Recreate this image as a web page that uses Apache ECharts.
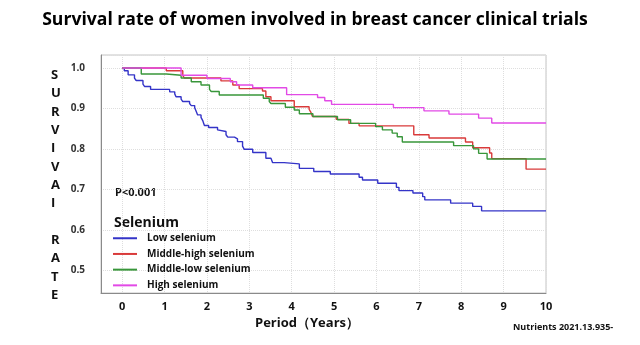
<!DOCTYPE html>
<html><head><meta charset="utf-8">
<script src="https://cdn.jsdelivr.net/npm/echarts@6/dist/echarts.min.js"></script>
<style>html,body{margin:0;padding:0;background:#fff}#c{width:640px;height:345px}</style>
</head><body><div id="c"></div>
<script>
const titleText = 'Survival rate of women involved in breast cancer clinical trials';
const seriesNames = ['Low selenium', 'Middle-high selenium', 'Middle-low selenium', 'High selenium'];
const seriesColors = ['#3434c8', '#d93a3a', '#38963a', '#e24ae6'];
const yTicks = [0.5, 0.6, 0.7, 0.8, 0.9, 1.0];
const xTicks = [0, 1, 2, 3, 4, 5, 6, 7, 8, 9, 10];

const lowSelenium = [[0,1.0],[0.05,0.993],[0.14,0.983],[0.29,0.975],[0.33,0.969],[0.49,0.96],[0.53,0.954],[0.67,0.947],[1.12,0.941],[1.24,0.936],[1.27,0.929],[1.39,0.923],[1.43,0.917],[1.59,0.912],[1.63,0.907],[1.71,0.902],[1.75,0.892],[1.78,0.884],[1.86,0.878],[1.9,0.87],[1.94,0.858],[2.04,0.853],[2.25,0.847],[2.29,0.843],[2.45,0.835],[2.49,0.829],[2.65,0.825],[2.72,0.818],[2.84,0.807],[2.88,0.799],[3.08,0.791],[3.39,0.777],[3.51,0.773],[3.55,0.766],[3.82,0.763],[4.18,0.752],[4.52,0.744],[4.91,0.738],[5.59,0.73],[5.67,0.723],[6.03,0.715],[6.47,0.705],[6.53,0.697],[6.86,0.691],[7.09,0.682],[7.14,0.674],[7.75,0.666],[8.27,0.658],[8.48,0.647],[10,0.647]];
const middleHighSelenium = [[0,1.0],[1.04,0.993],[1.43,0.981],[1.47,0.975],[2.33,0.968],[2.61,0.958],[2.76,0.949],[3.31,0.943],[3.39,0.929],[3.51,0.919],[4.06,0.904],[4.41,0.898],[4.45,0.891],[4.49,0.88],[5.05,0.873],[5.35,0.863],[5.59,0.857],[6.88,0.835],[7.24,0.827],[8.1,0.817],[8.27,0.803],[8.67,0.79],[8.72,0.776],[9.53,0.75],[10,0.75]];
const middleLowSelenium = [[0,1.0],[0.45,0.985],[1.04,0.982],[1.39,0.975],[1.63,0.966],[1.86,0.958],[2.06,0.947],[2.1,0.942],[2.29,0.933],[3.33,0.925],[3.47,0.917],[3.51,0.912],[3.85,0.903],[4.06,0.896],[4.18,0.887],[4.5,0.88],[5.08,0.872],[5.39,0.863],[5.98,0.855],[6.14,0.847],[6.37,0.839],[6.49,0.83],[6.61,0.817],[7.82,0.808],[8.29,0.8],[8.41,0.789],[8.61,0.775],[10,0.775]];
const highSelenium = [[0,1.0],[1.39,0.982],[2.0,0.974],[2.55,0.966],[2.7,0.958],[3.08,0.951],[3.88,0.934],[4.61,0.927],[4.78,0.919],[4.94,0.91],[6.4,0.902],[7.12,0.894],[7.71,0.886],[8.41,0.876],[8.72,0.864],[10,0.864]];
const seriesData = [lowSelenium, middleHighSelenium, middleLowSelenium, highSelenium];

const FONT = '"Open Sans", "Noto Sans", Arial, sans-serif';
const chart = echarts.init(document.getElementById('c'), null, {renderer: 'canvas'});
const isTick = (v, list) => list.some(t => Math.abs(t - v) < 1e-6);

chart.setOption({
  animation: false,
  backgroundColor: '#fff',
  title: {
    text: titleText, left: 310, top: 6, textAlign: 'center',
    textStyle: {fontFamily: FONT, fontWeight: 'bold', fontSize: 17.6, color: '#000'}
  },
  grid: {left: 101, right: 94, top: 55, bottom: 52, show: true, borderColor: '#c4c4c4', borderWidth: 1},
  legend: {
    orient: 'vertical', left: 113, top: 232, padding: 0, itemWidth: 24, itemHeight: 2, itemGap: 3.2,
    icon: 'rect', data: seriesNames,
    textStyle: {fontFamily: FONT, fontWeight: 'bold', fontSize: 10, color: '#111', lineHeight: 12.5, padding: [0, 0, 0, 5]}
  },
  xAxis: {
    type: 'value', min: -0.5, max: 10, splitNumber: 10,
    axisLine: {show: true, onZero: false, lineStyle: {color: '#8a8a8a', width: 1}},
    axisTick: {show: false},
    axisLabel: {margin: 8, fontFamily: FONT, fontWeight: 'bold', fontSize: 11, color: '#111',
      formatter: v => isTick(v, xTicks) ? String(Math.round(v)) : ''},
    splitLine: {show: true, lineStyle: {color: '#dedede', type: 'dotted', width: 1}}
  },
  yAxis: {
    type: 'value', min: 0.444, max: 1.032, splitNumber: 5,
    axisLine: {show: true, onZero: false, lineStyle: {color: '#8a8a8a', width: 1}},
    axisTick: {show: false},
    axisLabel: {margin: 16, fontFamily: FONT, fontWeight: 'bold', fontSize: 10, color: '#333',
      formatter: v => isTick(v, yTicks) ? v.toFixed(1) : ''},
    splitLine: {show: true, lineStyle: {color: '#dedede', type: 'dotted', width: 1}}
  },
  graphic: [
    {type: 'text', left: 51, top: 66, style: {text: 'S\nU\nR\nV\nI\nV\nA\nI\n\nR\nA\nT\nE', fontFamily: FONT, fontWeight: 'bold', fontSize: 13, lineHeight: 18.35, fill: '#111', align: 'center'}},
    {type: 'text', left: 115, top: 187, style: {text: 'P<0.001', fontFamily: FONT, fontWeight: 'bold', fontSize: 11, fill: '#111'}},
    {type: 'text', left: 114, top: 216, style: {text: 'Selenium', fontFamily: FONT, fontWeight: 'bold', fontSize: 14, fill: '#111'}},
    {type: 'text', left: 255, top: 317, style: {text: 'Period（Years）', fontFamily: FONT, fontWeight: 'bold', fontSize: 13, fill: '#111'}},
    {type: 'text', left: 513, top: 323, style: {text: 'Nutrients 2021.13.935-', fontFamily: FONT, fontWeight: 'bold', fontSize: 9, fill: '#111'}}
  ],
  series: seriesData.map((d, i) => ({
    name: seriesNames[i], type: 'line', step: 'end', data: d, showSymbol: false, symbol: 'none',
    lineStyle: {color: seriesColors[i], width: 1.4}, itemStyle: {color: seriesColors[i]}
  }))
});
</script></body></html>
